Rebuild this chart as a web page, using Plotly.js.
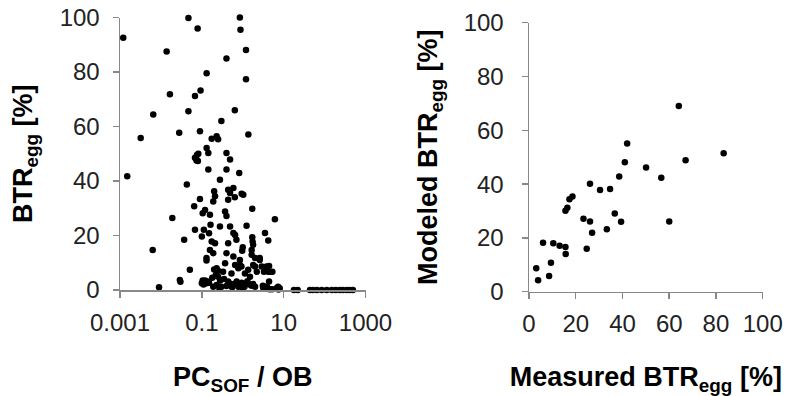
<!DOCTYPE html>
<html>
<head>
<meta charset="utf-8">
<script src="https://cdn.plot.ly/plotly-3.0.1.min.js"></script>
<style>html,body{margin:0;padding:0;background:#fff;}#chart{width:786px;height:396px;}</style>
</head>
<body>
<div id="chart"></div>
<script>
// Left panel: PC_SOF / OB (log) vs BTR_egg [%]
const ratioPC = [
  0.0012,0.0015,0.0032,0.0065,0.0063,0.009,0.0138,0.0166,0.019,0.028,0.029,0.030,0.037,0.043,0.047,0.047,0.051,0.065,0.068,0.068,
  0.068,0.074,0.076,0.080,0.082,0.079,0.09,0.09,0.093,0.1,0.105,0.112,0.12,0.131,0.131,0.144,0.144,0.15,0.158,0.158,
  0.163,0.174,0.19,0.2,0.21,0.23,0.25,0.277,0.277,0.30,0.21,0.19,0.13,0.40,0.40,0.49,0.40,0.44,0.49,0.44,
  0.37,0.40,0.49,0.59,0.64,0.59,0.64,0.82,0.94,1.03,0.85,0.88,1.2,1.2,1.37,1.24,1.71,1.71,1.8,3.5,
  4.2,6.1,2.6,
  0.12,0.13,0.14,0.15,0.13,0.174,0.19,0.23,0.23,0.25,0.25,0.30,0.33,0.37,0.40,0.44,0.44,0.47,0.51,0.55,
  0.6,0.53,0.59,0.65,0.78,0.85,0.93,0.71,0.78,0.86,0.94,1.0,0.85,0.97,1.0,1.13,1.36,1.5,1.65,1.8,
  2.0,1.8,2.0,2.2,2.6,2.9,3.1,3.5,3.9,3.3,4.2,1.74,1.65,1.65,3.8,4.4,4.6,5.3,4.4,3.2,
  6.7,7.3,8.0,7.5,2.0,0.65,0.7,0.1,0.105,0.11,0.2,0.22,0.18,0.28,0.35,0.4,0.27,1.2,1.3,1.45,
  1.1,4.5,5.2,
  17.8,22,44,52,65,85,113,150,188,236,279,349,414,491
];
const btrEgg = [
  92.6,41.7,55.8,64.4,14.7,1.0,87.5,71.8,26.4,57.7,3.7,3.0,18.4,38.7,99.8,65.6,7.4,30.7,71.2,22.1,
  48.5,47.5,49.5,47.3,50.0,96.0,58.3,33.4,73.2,19.6,28.2,22.1,29.4,79.5,52.1,50.3,44.2,20.8,14.7,27.6,
  23.9,55.5,32.5,36.2,34.4,56.4,55.3,40.5,23.3,62.0,17.2,13.5,11.7,85.0,50.3,47.9,44.2,36.8,35.6,33.1,
  28.8,27.2,23.3,20.9,66.0,37.4,34.0,42.9,35.3,35.0,100,95.5,88.1,77.3,57.1,23.6,29.8,19.4,16.6,20.9,
  18.2,26.0,11.7,
  3.5,2.5,3.1,2.7,10.8,17.8,1.2,1.8,8.0,7.1,4.9,1.2,6.7,9.8,13.5,17.2,3.1,2.5,1.8,1.0,
  2.2,6.1,12.3,9.2,8.0,9.2,8.6,3.1,1.2,2.1,2.7,0.6,11.0,14.4,15.7,6.1,7.4,4.9,1.6,2.2,
  1.2,9.2,11.7,6.7,11.0,8.6,1.6,1.2,1.2,6.7,6.7,17.8,14.7,12.9,8.6,8.8,6.7,6.7,3.1,0.6,
  0.6,1.2,0.6,0.2,8.6,20.2,18.4,2.5,3.5,2.0,7.5,5.5,4.5,3.5,4.0,1.5,0.5,2.5,3.2,2.0,
  1.2,0.3,0.3,
  0,0,0,0,0,0,0,0,0,0,0,0,0,0
];

// Right panel: measured vs modeled BTR_egg [%]
const measuredBTR = [3.1,3.9,6.0,8.6,9.4,10.4,13.1,15.6,15.7,15.6,16.4,17.3,18.6,23.3,24.7,26.1,26.1,27.0,30.4,33.3,34.7,36.7,38.6,39.4,41.0,42.0,50.1,56.6,60.0,64.1,67.0,83.3];
const modeledBTR  = [8.7,4.3,18.2,5.8,10.8,18.0,17.1,16.6,14.0,30.1,31.2,34.4,35.4,27.1,16.0,26.1,40.1,21.9,37.8,23.2,38.2,29.1,42.8,26.0,48.1,55.1,46.2,42.4,26.1,69.0,48.9,51.5];

const logTickVals = [0.001, 0.1, 10, 1000];
const logTickText = ["0.001", "0.1", "10", "1000"];
const linTickVals = [0, 20, 40, 60, 80, 100];
const yTickVals = [0, 20, 40, 60, 80, 100];

const W = 786, H = 396;
const px = v => v / W;
const py = v => (H - v) / H;

const tickFont = {family: "Liberation Sans, Arial, sans-serif", size: 24, color: "#222"};
const titleFont = {family: "Liberation Sans, Arial, sans-serif", size: 27, color: "#000", weight: "bold"};
const axisCommon = {
  showline: true, linecolor: "#888", linewidth: 1.5,
  ticks: "outside", ticklen: 6, tickwidth: 1.5, tickcolor: "#888",
  showgrid: false, zeroline: false, tickfont: tickFont, automargin: false
};
const marker = {color: "#000", size: 6.5};

const data = [
  {type: "scatter", mode: "markers", x: ratioPC, y: btrEgg, xaxis: "x", yaxis: "y", marker: marker, cliponaxis: false},
  {type: "scatter", mode: "markers", x: measuredBTR, y: modeledBTR, xaxis: "x2", yaxis: "y2", marker: marker, cliponaxis: false}
];

const layout = {
  width: W, height: H,
  margin: {l: 0, r: 0, t: 0, b: 0},
  paper_bgcolor: "#fff", plot_bgcolor: "#fff",
  showlegend: false,
  xaxis: Object.assign({}, axisCommon, {
    type: "log", range: [-3, 3], domain: [px(120), px(365.5)], anchor: "y",
    tickmode: "array", tickvals: logTickVals, ticktext: logTickText, ticklabelstandoff: 5,
    title: {text: "<b>PC<sub>SOF</sub> / OB</b>", font: titleFont, standoff: 33}
  }),
  yaxis: Object.assign({}, axisCommon, {
    range: [0, 100], domain: [py(290), py(17.5)], anchor: "x",
    tickmode: "array", tickvals: yTickVals, ticklabelstandoff: 8,
    title: {text: "<b>BTR<sub>egg</sub> [%]</b>", font: titleFont, standoff: 19}
  }),
  xaxis2: Object.assign({}, axisCommon, {
    range: [0, 100], domain: [px(529), px(762.7)], anchor: "y2",
    tickmode: "array", tickvals: linTickVals, ticklabelstandoff: 4,
    title: {text: "<b>Measured BTR<sub>egg</sub> [%]</b>", font: titleFont, standoff: 33}
  }),
  yaxis2: Object.assign({}, axisCommon, {
    range: [0, 100], domain: [py(291.7), py(22.7)], anchor: "x2",
    tickmode: "array", tickvals: yTickVals, ticklabelstandoff: 13,
    title: {text: "<b>Modeled BTR<sub>egg</sub> [%]</b>", font: titleFont, standoff: 18}
  })
};

Plotly.newPlot("chart", data, layout, {staticPlot: true, displayModeBar: false});
</script>
</body>
</html>
